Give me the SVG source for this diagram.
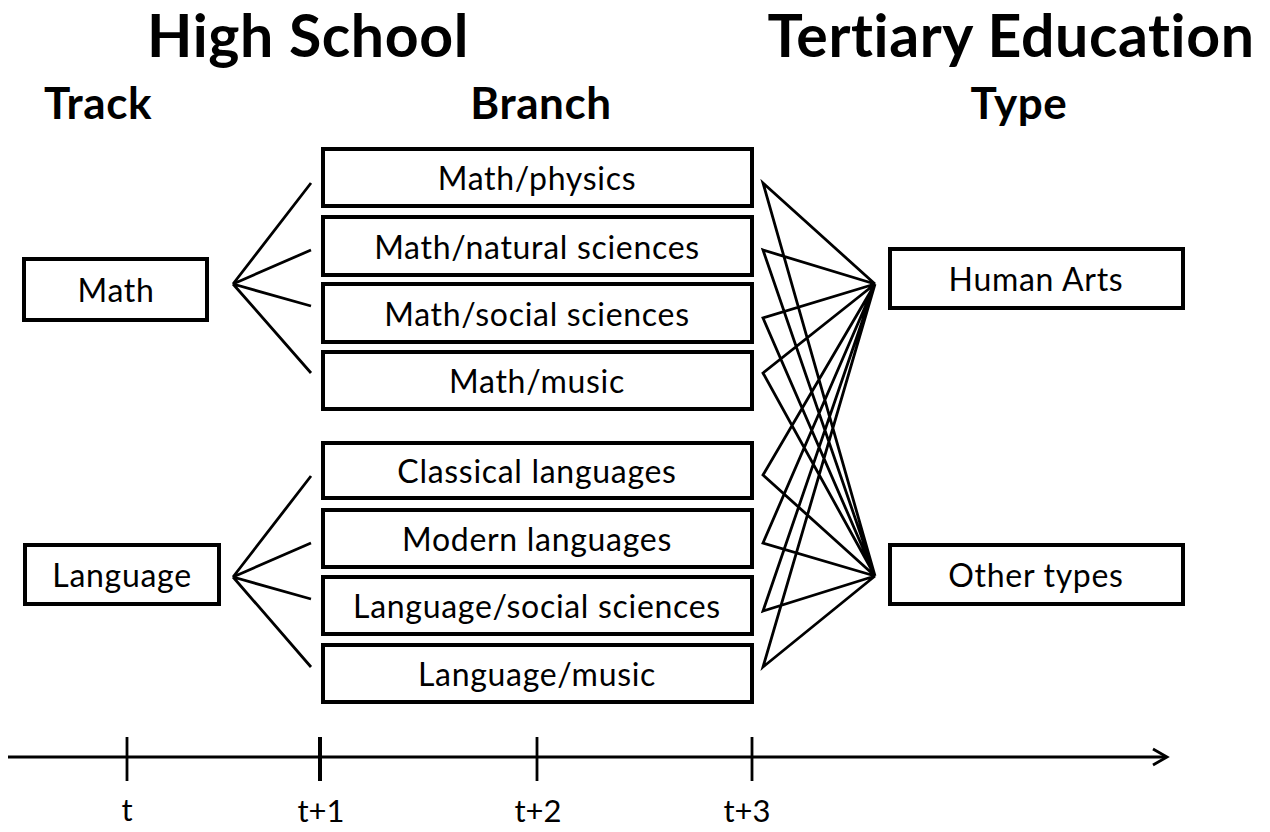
<svg xmlns="http://www.w3.org/2000/svg" width="1270" height="832" viewBox="0 0 1270 832">
<style>
text{font-family:Lato,"Open Sans",sans-serif;fill:#000;text-anchor:middle;font-variant-ligatures:none;font-feature-settings:"liga" 0,"dlig" 0}
.box{fill:#fff;stroke:#000;stroke-width:4}
.lbl{font-size:32px;letter-spacing:0.7px}
.h1{font-weight:bold;font-size:59px;letter-spacing:0.6px}
.h2{font-weight:bold;font-size:44px;letter-spacing:0.6px}
.ln{stroke:#000;stroke-width:2.8;fill:none}
.ax{font-size:31px}
</style>
<rect width="1270" height="832" fill="#fff"/>
<g id="titles">
<text class="h1" x="308" y="57">High School</text>
<text class="h1" x="1011" y="57">Tertiary Education</text>
<text class="h2" x="98" y="119">Track</text>
<text class="h2" x="541" y="119">Branch</text>
<text class="h2" x="1019" y="119">Type</text>
</g>
<g id="connectors">
<path class="ln" d="M233 284L311 183M233 284L311 250M233 284L311 306M233 284L311 373"/>
<path class="ln" d="M233 577L311 476M233 577L311 543M233 577L311 599M233 577L311 667"/>
<path class="ln" d="M875 284L763 183L875 576M875 284L763 250L875 576M875 284L763 318L875 576M875 284L763 373L875 576M875 284L763 475L875 576M875 284L763 543L875 576M875 284L763 611L875 576M875 284L763 667L875 576"/>
</g>
<g id="track-math"><rect class="box" x="24" y="259" width="183" height="61"/><text class="lbl" x="116" y="302">Math</text></g>
<g id="track-language"><rect class="box" x="25" y="545" width="194" height="59"/><text class="lbl" x="122" y="587">Language</text></g>
<g id="b1"><rect class="box" x="323" y="149" width="429" height="57"/><text class="lbl" x="537" y="190">Math/physics</text></g>
<g id="b2"><rect class="box" x="323" y="217" width="429" height="58"/><text class="lbl" x="537" y="259">Math/natural sciences</text></g>
<g id="b3"><rect class="box" x="323" y="284" width="429" height="58"/><text class="lbl" x="537" y="326">Math/social sciences</text></g>
<g id="b4"><rect class="box" x="323" y="352" width="429" height="57"/><text class="lbl" x="537" y="393">Math/music</text></g>
<g id="b5"><rect class="box" x="323" y="443" width="429" height="55"/><text class="lbl" x="537" y="483">Classical languages</text></g>
<g id="b6"><rect class="box" x="323" y="510" width="429" height="57"/><text class="lbl" x="537" y="551">Modern languages</text></g>
<g id="b7"><rect class="box" x="323" y="577" width="429" height="57"/><text class="lbl" x="537" y="618">Language/social sciences</text></g>
<g id="b8"><rect class="box" x="323" y="645" width="429" height="57"/><text class="lbl" x="537" y="686">Language/music</text></g>
<g id="type-human-arts"><rect class="box" x="890" y="249" width="293" height="59"/><text class="lbl" x="1036" y="291">Human Arts</text></g>
<g id="type-other"><rect class="box" x="890" y="545" width="293" height="59"/><text class="lbl" x="1036" y="587">Other types</text></g>
<g id="axis">
<line class="ln" x1="8" y1="757" x2="1166" y2="757"/>
<path class="ln" d="M1153 749L1167 757L1153 765"/>
<line class="ln" x1="127" y1="737" x2="127" y2="781"/>
<line x1="320" y1="737" x2="320" y2="781" stroke="#000" stroke-width="4"/>
<line class="ln" x1="537" y1="737" x2="537" y2="781"/>
<line class="ln" x1="752" y1="737" x2="752" y2="781"/>
<text class="ax" x="127" y="821">t</text>
<text class="ax" x="321" y="822">t+1</text>
<text class="ax" x="538" y="822">t+2</text>
<text class="ax" x="747" y="822">t+3</text>
</g>
</svg>
